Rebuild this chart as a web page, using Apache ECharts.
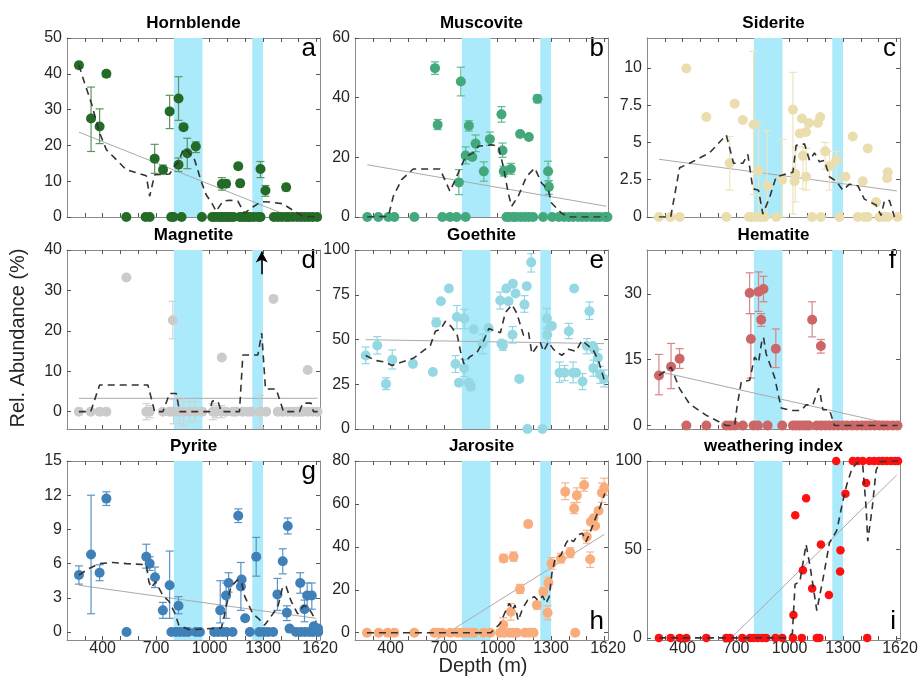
<!DOCTYPE html>
<html><head><meta charset="utf-8">
<script src="https://cdn.jsdelivr.net/npm/echarts@6/dist/echarts.min.js"></script>
<style>html,body{margin:0;padding:0;background:#fff}#c{width:922px;height:682px}</style>
</head><body><div id="c"></div>
<script>
// ---------- shared axis data ----------
const bands = [[800, 960], [1240, 1300]];
const xTickLabels = [400, 700, 1000, 1300, 1620];
const xTickMarks = [300, 400, 500, 600, 700, 800, 900, 1000, 1100, 1200, 1300, 1400, 1500, 1600];
const titles = ['Hornblende', 'Muscovite', 'Siderite', 'Magnetite', 'Goethite', 'Hematite', 'Pyrite', 'Jarosite', 'weathering index'];
const letters = ['a', 'b', 'c', 'd', 'e', 'f', 'g', 'h', 'i'];

// ---------- Hornblende ----------
const hbPts = [[267,42.4,41.6,43.2],[335,27.5,18.3,36.3],[383,25.3,20.5,30.2],[421,40.0,39.2,40.8],
 [692,16.3,12.2,20.3],[739,13.2,12.0,14.5],[776,29.5,24.7,34.0],[826,14.6,12.7,16.5],
 [826,33.1,27.0,39.2],[854,25.1,24.2,26.0],[875,17.8,13.5,22.0],[923,19.7,18.0,21.0],
 [1069,9.2,7.5,11.0],[1093,9.3,8.3,10.3],[1161,14.2,13.3,15.0],[1172,9.4,8.5,10.3],
 [1286,13.4,11.0,15.5],[1314,7.4,5.8,8.8],[1430,8.3,7.3,9.2]];
const hbZero = [533,641,664,785,798,843,957,1015,1030,1049,1064,1075,1093,1107,1123,1135,1170,1187,1202,1217,1230,1249,1273,1286,1361,1383,1406,1430,1445,1467,1492,1514,1535,1557,1579,1604];
const hbTrend = [[267,42.4],[299,37.4],[337,31.8],[383,23.5],[421,18.8],[533,13.2],[645,11.5],[664,5.8],[692,11.8],[776,12.0],[804,14.2],[826,15.4],[854,19.1],[879,18.3],[916,16.0],[953,10.0],[981,6.2],[1015,3.7],[1037,1.6],[1075,4.4],[1112,4.7],[1159,4.4],[1196,1.1],[1243,2.8],[1290,4.3],[1336,4.2],[1411,3.7],[1467,1.9],[1523,0.2],[1604,0]];
const hbFit = [[267,23.7],[1460,0]];

// ---------- Muscovite ----------
const msPts = [[649,49.9,47.8,52.0],[664,30.9,29.3,32.7],[794,45.4,40.6,50.2],[783,11.6,7.5,15.9],
 [839,30.6,28.8,32.3],[821,20.6,17.8,23.5],[858,20.1],[877,24.6,21.9,27.5],
 [923,15.3,12.0,18.5],[957,26.1,24.0,28.5],[1022,34.4,31.8,37.0],[1028,22.3,20.0,24.8],
 [1035,15.3,13.7,17.0],[1075,16.1,14.3,18.0],[1127,27.8,26.8,28.7],[1176,26.8,26.0,27.6],
 [1224,39.6,38.3,40.9],[1284,15.3,12.0,18.7],[1288,10.1,7.6,12.2]];
const msZero = [269,331,387,421,533,690,733,770,821,1050,1065,1088,1103,1129,1153,1176,1200,1256,1307,1344,1374,1400,1424,1452,1475,1499,1527,1550,1574,1602,1617];
const msTrend = [[269,0],[387,0.2],[415,6.9],[462,12.5],[527,16.1],[677,16.1],[733,8.6],[779,14.7],[821,20.3],[864,21.5],[892,23.7],[966,24.2],[1004,23.7],[1032,17.0],[1060,8.0],[1079,3.6],[1116,6.9],[1163,13.6],[1209,16.4],[1247,11.4],[1284,9.2],[1303,4.7],[1359,1.3],[1396,0],[1611,0]];
const msFit = [[269,17.5],[1611,3.6]];

// ---------- Siderite ----------
const sdPts = [[421,9.95],[533,6.7],[692,7.6],[738,6.5],[664,3.6,1.8,5.4],[798,6.2,1.5,11.1],
 [826,3.1,0,6.3],[875,2.1,0,5.8],[959,2.5,0,5.2],[1019,7.2,0.2,9.7],[1032,2.9,1.0,4.7],
 [1028,2.4],[1058,5.6],[1069,6.6],[1075,4.1,1.9,4.7],[1093,5.7],[1093,2.7,1.8,4.6],[1108,6.3],
 [1159,6.3],[1172,6.7],[1200,4.4,3.2,5.0],[1224,3.4,1.8,4.4],[1262,3.8,2.4,4.4],
 [1314,2.7],[1355,5.4],[1411,2.4],[1439,4.6],[1486,1.0],[1551,3.0],[1548,2.6]];
const sdZero = [267,331,383,645,772,785,813,836,860,925,1127,1176,1280,1383,1420,1439,1505,1527,1551,1606];
const sdTrend = [[267,0],[333,0],[383,3.3],[439,3.6],[551,4.3],[645,5.5],[686,3.6],[738,3.6],[766,4.2],[794,1.9],[826,1.8],[850,0.2],[888,1.3],[925,2.7],[1019,3.0],[1037,4.8],[1084,4.9],[1112,3.8],[1140,4.3],[1168,3.7],[1196,3.8],[1224,2.7],[1262,2.4],[1299,1.8],[1336,2.2],[1383,2.1],[1420,1.2],[1486,0.8],[1514,0.1],[1533,1.1],[1561,1.1],[1589,0]];
const sdFit = [[267,3.87],[1602,1.75]];

// ---------- Magnetite ----------
const mgPts = [[533,33.2],[794,22.6,18.0,27.3],[1069,13.4],[1359,27.9],[1551,10.3]];
const mgZero = [267,333,383,421,645,664,738,776,798,832,854,888,918,959,1019,1037,1066,1093,1131,1150,1187,1215,1234,1284,1318,1383,1411,1439,1467,1486,1505,1523,1551,1579,1606];
const mgZeroErr = [[645,2],[664,1.5],[798,3],[832,3],[854,3.5],[888,2.5],[918,2.5],[1019,2],[1037,1.5],[1066,1.5],[1284,4]];
const mgTrend = [[267,0],[333,0],[383,6.6],[654,6.6],[692,0],[738,0],[776,4.5],[813,4.5],[832,0],[1000,0],[1015,2.6],[1047,2.6],[1066,0],[1168,0],[1187,14.0],[1271,14.0],[1293,19.4],[1314,5.6],[1374,5.6],[1415,0],[1505,0],[1523,2.1],[1570,2.1],[1583,0],[1607,0]];
const mgFit = [[267,3.3],[1606,3.3]];
const mgArrow = [[1293,34],[1293,39.6]];

// ---------- Goethite ----------
const gtPts = [[260,41.1,36.5,45.8],[325,46.7,41.9,51.6],[374,25.2,22.0,28.6],[409,38.7,33.5,44.2],
 [525,36.4],[637,31.8],[656,59.4,57.5,62.0],[682,71.4],[727,78.5],[764,36.3,31.6,41.0],
 [772,62.6,56.0,69.0],[783,25.8],[813,61.7,56.0,66.9],[813,34.0,29.2,38.8],[839,25.8],
 [850,23.6,22.0,26.0],[867,55.7],[916,47.7,42.0,53.0],[949,56.4],[1015,71.8,67.0,76.5],[1022,47.7],
 [1030,46.7,44.0,49.5],[1049,78.5],[1062,71.4],[1086,81.1],[1101,75.7],[1084,52.7,48.0,57.2],
 [1122,28.0],[1151,69.5,65.2,74.5],[1164,79.8],[1189,93.1,87.7,98.0],[1168,0],[1252,0],
 [1277,61.7,56.0,67.3],[1279,52.7,48.0,57.0],[1305,57.6],[1348,31.4,26.0,37.4],
 [1376,31.4,27.0,35.5],[1400,54.6,50.5,59.0],[1424,31.4,25.8,37.4],[1441,31.4],[1430,78.5],
 [1477,26.5,22.0,31.0],[1501,46.4,42.0,50.5],[1516,65.8,61.2,71.0],[1535,46.4],[1538,34.0,29.5,38.5],
 [1542,44.5],[1563,39.8,35.0,44.5],[1576,30.5,25.5,35.0],[1598,28.0,23.5,33.0]];
const gtZero = [];
const gtTrend = [[260,41.1],[314,38.3],[370,37.4],[407,35.5],[464,37.4],[529,39.6],[623,46.7],[651,54.6],[680,55.7],[708,60.2],[742,57.0],[774,52.3],[793,43.0],[811,36.4],[843,40.2],[886,43.0],[923,49.5],[951,56.1],[1016,53.8],[1044,65.0],[1081,69.5],[1109,64.5],[1146,52.3],[1174,53.8],[1193,42.1],[1239,48.6],[1258,43.4],[1286,48.6],[1314,44.5],[1361,41.1],[1398,44.5],[1441,43.4],[1473,49.5],[1510,46.4],[1538,43.9],[1566,38.3],[1598,27.7]];
const gtFit = [[260,49.9],[1598,47.7]];

// ---------- Hematite ----------
const hmPts = [[267,11.4,7.0,16.2],[335,13.4,8.4,18.7],[383,15.2,13.0,17.5],[776,30.2,25.5,34.8],
 [783,19.7,10.8,25.5],[826,30.5,26.0,35.0],[854,31.1,28.2,34.0],[841,24.1,22.6,25.5],
 [923,17.5,13.2,22.0],[1127,24.1,20.2,28.2],[1176,18.1,16.5,19.6]];
const hmZero = [421,533,645,667,692,738,798,822,877,959,1019,1037,1056,1075,1093,1108,1153,1178,1202,1224,1247,1271,1299,1322,1351,1378,1406,1430,1452,1477,1505,1527,1551,1579,1606];
const hmTrend = [[267,11.4],[335,13.3],[383,8.4],[439,4.9],[533,2.3],[645,0],[692,0],[705,4.2],[729,9.9],[776,10.3],[804,15.6],[826,14.4],[845,19.4],[854,20.1],[869,16.3],[916,11.0],[953,4.0],[1009,3.4],[1065,3.4],[1093,4.7],[1131,4.7],[1163,8.5],[1174,6.8],[1187,3.6],[1224,3.6],[1252,0],[1607,0]];
const hmFit = [[267,12.3],[1605,0]];

// ---------- Pyrite ----------
const pyPts = [[267,5.0,4.2,5.8],[335,6.8,1.6,12.0],[383,5.2,4.5,5.9],[421,11.7,11.1,12.3],
 [645,6.6,5.6,7.7],[664,6.0,5.4,6.6],[694,4.8,3.9,5.7],[738,1.9,1.2,2.6],[776,4.1,1.2,7.1],
 [826,2.3,1.6,3.1],[1060,1.9,0.8,4.5],[1093,3.2,1.2,4.3],[1107,4.3,3.5,5.2],[1161,10.2,9.6,10.8],
 [1176,4.0,1.9,6.1],[1180,4.6],[1200,1.2],[1262,6.6,4.9,8.3],[1381,3.3,1.9,4.7],[1411,6.2,5.1,7.3],
 [1439,9.3,8.6,10.0],[1434,1.7,1.0,2.3],[1449,0.3],[1509,4.3,3.4,5.2],[1533,2.0,0.9,2.8],
 [1548,3.2,2.0,4.3],[1574,3.2,2.0,4.3],[1585,0.5],[1609,0.3]];
const pyZero = [534,786,811,833,857,880,923,946,1026,1048,1073,1095,1129,1226,1279,1305,1329,1357,1485,1511,1535,1560,1582,1610];
const pyTrend = [[267,5.0],[327,5.6],[383,6.0],[458,6.1],[533,6.0],[645,5.9],[660,4.4],[673,3.9],[698,4.4],[738,3.2],[772,2.7],[804,1.7],[828,0.6],[888,0.2],[1066,0.35],[1079,1.1],[1097,2.5],[1121,4.0],[1159,4.6],[1180,4.3],[1198,3.1],[1243,1.6],[1280,1.1],[1308,0.6],[1333,1.1],[1383,2.2],[1411,4.0],[1430,4.0],[1458,2.7],[1495,1.6],[1527,2.3],[1551,2.2],[1576,1.6],[1598,0.9]];
const pyFit = [[267,4.1],[1598,1.2]];

// ---------- Jarosite ----------
const jrPts = [[1032,3.6,0,7.0],[1034,34.6,33.0,36.5],[1090,35.4,33.3,37.6],[1075,9.8,5.8,13.5],[1126,20.3,18.3,22.5],
 [1172,50.6,49.5,52.0],[1221,12.9,11.0,14.5],[1257,19.1,17.3,21.0],[1281,9.3,6.0,12.5],[1286,23.3,20.8,25.8],
 [1303,32.3,29.6,35.0],[1356,34.6,32.5,37.0],[1380,65.7,62.0,69.8],[1408,37.3,35.0,39.6],[1430,57.9,55.5,60.5],
 [1445,64.0,60.7,67.5],[1486,68.8,65.9,72.0],[1501,44.7,41.7,47.7],[1520,34.2,30.4,37.6],[1524,51.7],
 [1539,53.3],[1548,49.7],[1567,56.8],[1586,65.2,60.7,69.8],[1599,67.5,64.0,72.0]];
const jrZero = [267,333,383,421,533,645,667,692,735,776,798,822,847,869,921,959,1015,1037,1069,1090,1108,1153,1178,1202,1436];
const jrTrend = [[267,0],[962,0],[1015,4.3],[1038,8.7],[1066,13.7],[1085,10.6],[1098,12.9],[1116,5.6],[1141,11.3],[1169,15.2],[1206,16.8],[1229,14.9],[1253,17.1],[1272,13.7],[1290,16.8],[1305,27.6],[1322,33.9],[1356,36.2],[1384,41.6],[1402,43.9],[1427,42.4],[1449,45.5],[1477,46.3],[1496,42.4],[1514,45.5],[1542,51.7],[1576,58.7],[1602,64.9]];
const jrFit = [[655,-3.4],[1599,45.8]];

// ---------- Weathering index ----------
const wiPts = [[1022,12.9],[1032,69.3],[1075,38.2],[1093,79.0],[1127,27.9],[1176,52.8],[1221,24.2],[1262,100],[1286,49.6],[1284,37.5],[1314,81.5],[1355,100],[1383,100],[1411,100],[1430,87.5],[1449,100],[1475,100],[1501,100],[1523,100],[1546,100],[1570,100],[1593,100],[1609,100]];
const wiZero = [267,333,383,421,533,645,667,735,779,798,822,847,869,921,959,1019,1069,1153,1168,1436];
const wiTrend = [[267,0],[983,0],[1016,2.6],[1031,30.3],[1058,31.8],[1093,52.8],[1116,40.1],[1153,15.4],[1191,35.0],[1224,53.7],[1265,60.7],[1299,77.2],[1321,86.5],[1351,95.9],[1383,99.3],[1411,97.4],[1430,73.4],[1439,54.7],[1464,73.4],[1486,94.9],[1508,99.6],[1609,100]];
const wiFit = [[673,0],[1602,92.1]];

// ---------- y axes ----------
const yMins = [0, 0, 0, -4.3, 0, -0.8, -0.7, -3.4, -1.2];
const yMaxs = [50, 60, 12, 40, 100, 40, 15, 80, 100];
const yTicks = [[0,10,20,30,40,50],[0,20,40,60],[0,2.5,5,7.5,10],[0,10,20,30,40],[0,25,50,75,100],[0,15,30],[0,3,6,9,12,15],[0,20,40,60,80],[0,50,100]];

const ptsList = [hbPts, msPts, sdPts, mgPts, gtPts, hmPts, pyPts, jrPts, wiPts];
const zeroList = [hbZero, msZero, sdZero, mgZero, gtZero, hmZero, pyZero, jrZero, wiZero];
const trendList = [hbTrend, msTrend, sdTrend, mgTrend, gtTrend, hmTrend, pyTrend, jrTrend, wiTrend];
const fitList = [hbFit, msFit, sdFit, mgFit, gtFit, hmFit, pyFit, jrFit, wiFit];

// ---------- styling ----------
const dotColors = ['#236b26', '#43a87b', '#ebdeae', '#cbcbcb', '#93d8e3', '#cd6767', '#3f80b8', '#f9ad7c', '#ff1010'];
const errColors = ['#5e9460', '#5dbb8f', '#efe4bc', '#d2d2d2', '#8fd6e2', '#d88585', '#5a94c6', '#f8b48c', '#ff1010'];
const colLeft = [67, 355, 647], rowTop = [38, 250, 461], W = 253, H = 179;
const FONT = '"Liberation Sans", Arial, Helvetica, sans-serif';
const axisGray = '#8a8a8a', textDark = '#262626';

function errRender(params, api) {
  const x = api.value(0), lo = api.value(1), hi = api.value(2);
  const p1 = api.coord([x, lo]), p2 = api.coord([x, hi]);
  const w = 4;
  const style = { stroke: api.visual('color'), lineWidth: 1.2, fill: null };
  return { type: 'group', children: [
    { type: 'line', shape: { x1: p1[0], y1: p1[1], x2: p2[0], y2: p2[1] }, style },
    { type: 'line', shape: { x1: p1[0] - w, y1: p1[1], x2: p1[0] + w, y2: p1[1] }, style },
    { type: 'line', shape: { x1: p2[0] - w, y1: p2[1], x2: p2[0] + w, y2: p2[1] }, style }
  ]};
}

const grids = [], xAxes = [], yAxes = [], series = [], graphics = [];
for (let i = 0; i < 9; i++) {
  const c = i % 3, r = Math.floor(i / 3);
  const left = colLeft[c], top = rowTop[r];
  grids.push({ left, top, width: W, height: H, containLabel: false });
  const baseX = { type: 'value', gridIndex: i, min: 200, max: 1620,
    axisLine: { show: true, onZero: false, lineStyle: { color: axisGray, width: 1 } },
    axisTick: { show: true, inside: true, length: 4, customValues: xTickMarks, lineStyle: { color: '#555' } },
    splitLine: { show: false } };
  xAxes.push(Object.assign({}, baseX, { position: 'bottom',
    axisLabel: { show: r === 2, customValues: xTickLabels, formatter: v => String(v), color: textDark, fontSize: 16, fontFamily: FONT, margin: 1 } }));
  xAxes.push(Object.assign({}, baseX, { position: 'top', axisLabel: { show: false } }));
  const baseY = { type: 'value', gridIndex: i, min: yMins[i], max: yMaxs[i],
    axisLine: { show: true, onZero: false, lineStyle: { color: axisGray, width: 1 } },
    axisTick: { show: true, inside: true, length: 4, customValues: yTicks[i], lineStyle: { color: '#555' } },
    splitLine: { show: false } };
  yAxes.push(Object.assign({}, baseY, { position: 'left',
    axisLabel: { show: true, customValues: yTicks[i], formatter: v => String(v), color: textDark, fontSize: 16, fontFamily: FONT, margin: 5 } }));
  yAxes.push(Object.assign({}, baseY, { position: 'right', axisLabel: { show: false } }));

  const xi = 2 * i, yi = 2 * i;
  // fit line + shaded bands
  series.push({ type: 'line', xAxisIndex: xi, yAxisIndex: yi, data: fitList[i], symbol: 'none', z: 1,
    lineStyle: { color: '#aaaaaa', width: 1 }, silent: true,
    markArea: { silent: true, itemStyle: { color: '#aaeafa', opacity: 1 },
      data: bands.map(b => [{ xAxis: b[0] }, { xAxis: b[1] }]) } });
  // error bars
  const errData = ptsList[i].filter(p => p.length > 2).map(p => [p[0], p[2], p[3]]);
  if (i === 3) mgZeroErr.forEach(e => errData.push([e[0], -e[1], e[1]]));
  if (errData.length) series.push({ type: 'custom', xAxisIndex: xi, yAxisIndex: yi, data: errData, renderItem: errRender,
    itemStyle: { color: errColors[i] }, z: 2, clip: false, silent: true });
  // points
  const dots = ptsList[i].map(p => [p[0], p[1]]).concat(zeroList[i].map(d => [d, 0]));
  series.push({ type: 'scatter', xAxisIndex: xi, yAxisIndex: yi, data: dots, symbolSize: i === 8 ? 8.5 : 10,
    itemStyle: { color: dotColors[i], opacity: 1 }, clip: false, z: 3, silent: true });
  // moving-average dashed line
  const trend = { type: 'line', xAxisIndex: xi, yAxisIndex: yi, data: trendList[i], symbol: 'none', z: 4, silent: true,
    lineStyle: { color: '#333333', width: 1.6, type: [7, 5] } };
  if (i === 3) {
    trend.markLine = { silent: true, symbol: ['none', 'arrow'], symbolSize: [9, 11],
      lineStyle: { color: '#000', width: 1.6, type: 'solid' }, label: { show: false },
      data: [[{ coord: mgArrow[0] }, { coord: mgArrow[1] }]] };
  }
  series.push(trend);

  // titles and letters
  graphics.push({ type: 'text', x: left + W / 2, y: top - 15, silent: true,
    style: { text: titles[i], font: 'bold 17px ' + FONT, fill: '#000', textAlign: 'center', textVerticalAlign: 'middle' } });
  const bottomLetter = (i === 7 || i === 8);
  graphics.push({ type: 'text', x: left + W - 4, y: bottomLetter ? top + H - 5 : top + 24, silent: true,
    style: { text: letters[i], font: '26px ' + FONT, fill: '#000', textAlign: 'right', textVerticalAlign: 'bottom' } });
}
graphics.push({ type: 'text', x: 18, y: 338, rotation: Math.PI / 2, silent: true,
  style: { text: 'Rel. Abundance (%)', font: '20px ' + FONT, fill: textDark, textAlign: 'center', textVerticalAlign: 'middle' } });
graphics.push({ type: 'text', x: 483, y: 666, silent: true,
  style: { text: 'Depth (m)', font: '20px ' + FONT, fill: textDark, textAlign: 'center', textVerticalAlign: 'middle' } });

const chart = echarts.init(document.getElementById('c'), null, { renderer: 'canvas' });
chart.setOption({ animation: false, backgroundColor: '#ffffff', grid: grids, xAxis: xAxes, yAxis: yAxes, series, graphic: graphics });
</script></body></html>
